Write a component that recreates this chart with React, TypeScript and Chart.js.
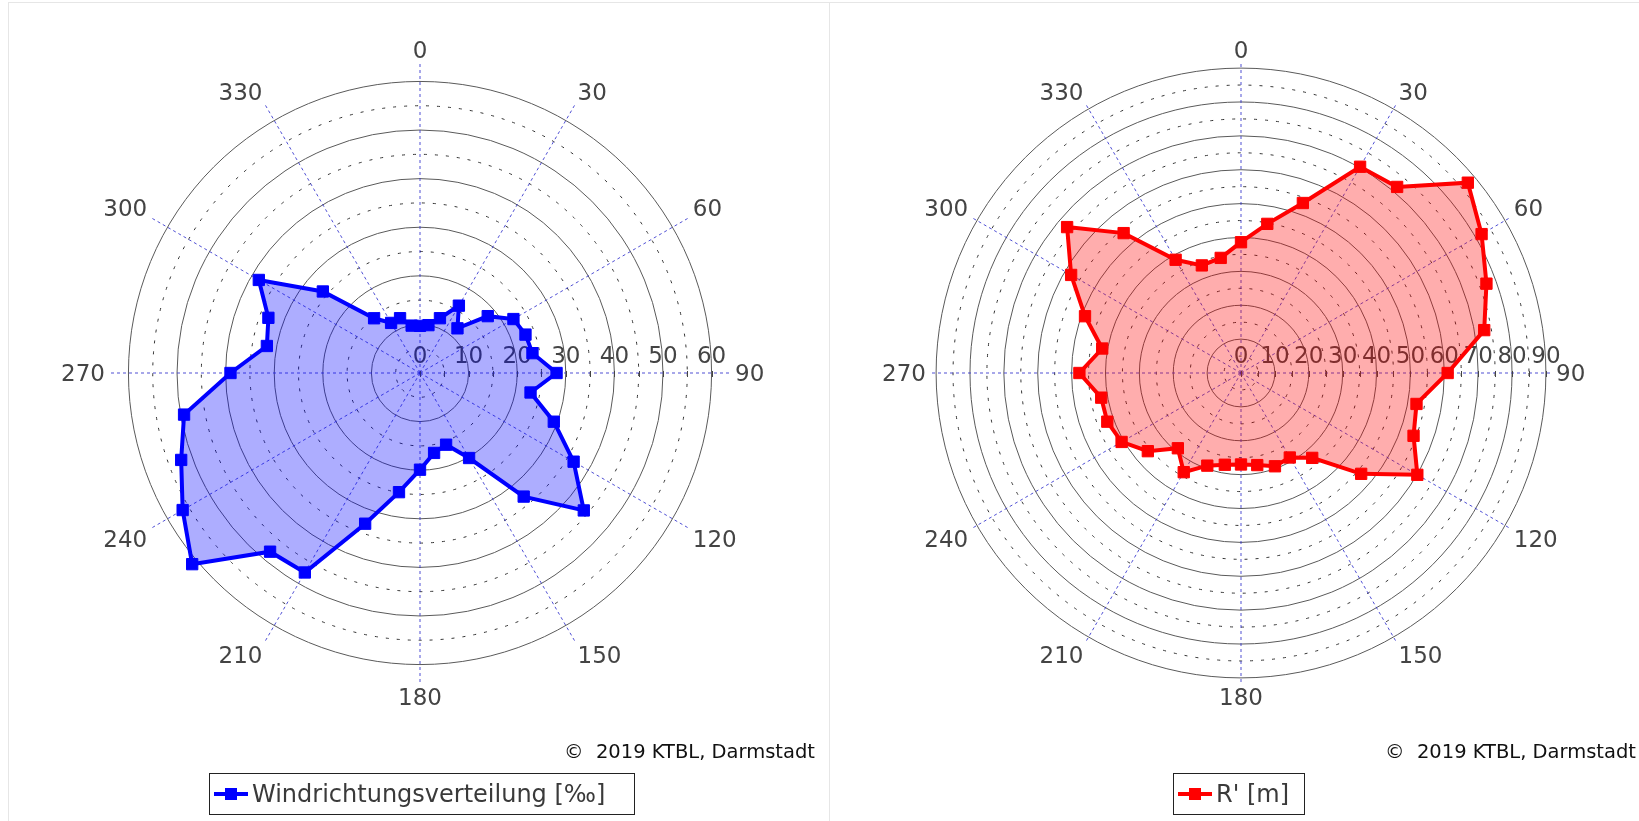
import React, { useEffect, useRef } from 'react';
import { Chart, registerables } from 'chart.js';

Chart.register(...registerables);

// ---------- data ----------
const directionLabels = [
  '0', '10', '20', '30', '40', '50', '60', '70', '80', '90', '100', '110',
  '120', '130', '140', '150', '160', '170', '180', '190', '200', '210', '220', '230',
  '240', '250', '260', '270', '280', '290', '300', '310', '320', '330', '340', '350',
];

const angleLabels = ['0', '30', '60', '90', '120', '150', '180', '210', '240', '270', '300', '330'];

const windValues = [
  9.7, 10.0, 12.0, 16.0, 12.0, 18.2, 22.2, 23.1, 23.5, 28.1, 23.1, 29.3,
  36.5, 44.0, 33.2, 20.2, 15.7, 16.7, 19.9, 24.9, 33.0, 47.4, 48.0, 61.2,
  56.4, 52.3, 49.3, 39.0, 32.0, 33.2, 38.3, 26.1, 14.7, 11.9, 12.0, 9.9,
];

const rValues = [
  38.6, 44.7, 53.4, 70.3, 71.7, 87.4, 82.0, 77.1, 72.9, 61.0, 52.6, 54.2,
  60.1, 46.3, 32.7, 28.8, 29.3, 27.6, 27.0, 27.5, 29.1, 33.8, 29.0, 35.9,
  40.7, 42.0, 41.9, 47.7, 41.6, 49.0, 57.9, 67.0, 53.9, 38.6, 33.8, 34.5,
];

const windTickLabels = ['0', '10', '20', '30', '40', '50', '60'];
const rTickLabels = ['0', '10', '20', '30', '40', '50', '60', '70', '80', '90'];

const windAxisMax = 64;
const rAxisMax = 91.8;

const FONT = '"DejaVu Sans", "Liberation Sans", sans-serif';

function polarDecor(tickLabels: string[]) {
  return {
    id: 'polarDecor',
    beforeDatasetsDraw(chart: any) {
      const s = chart.scales.r;
      const ctx = chart.ctx;
      ctx.save();
      // small tick marks along the 90° axis
      ctx.strokeStyle = '#444';
      ctx.lineWidth = 1;
      ctx.setLineDash([]);
      for (const t of s.ticks) {
        const d = s.getDistanceFromCenterForValue(t.value);
        ctx.beginPath();
        ctx.moveTo(Math.round(s.xCenter + d) + 0.5, s.yCenter - 2);
        ctx.lineTo(Math.round(s.xCenter + d) + 0.5, s.yCenter + 4);
        ctx.stroke();
      }
      // radial tick labels
      ctx.font = `23px ${FONT}`;
      ctx.fillStyle = '#444';
      ctx.textAlign = 'center';
      ctx.textBaseline = 'alphabetic';
      tickLabels.forEach((lab) => {
        const d = s.getDistanceFromCenterForValue(parseFloat(lab));
        ctx.fillText(lab, s.xCenter + d, s.yCenter - 10);
      });
      // angle labels
      const size = 23;
      const cap = size * 0.729;
      ctx.font = `${size}px ${FONT}`;
      const labels = chart.data.labels as string[];
      labels.forEach((lab, i) => {
        if (!angleLabels.includes(lab)) return;
        const deg = parseFloat(lab);
        const p = s.getPointPosition(i, s.drawingArea + 4);
        let align: CanvasTextAlign = 'center';
        if (deg > 0 && deg < 180) align = 'left';
        else if (deg > 180) align = 'right';
        let y = p.y;
        if (deg === 90 || deg === 270) y = p.y + cap / 2;
        else if (deg > 90 && deg < 270) y = p.y + cap;
        ctx.textAlign = align;
        ctx.fillText(lab, p.x, y);
      });
      ctx.restore();
    },
  };
}

function PolarPanel(props: {
  label: string;
  values: number[];
  max: number;
  tickLabels: string[];
  color: string;
  fill: string;
}) {
  const ref = useRef<HTMLCanvasElement | null>(null);
  useEffect(() => {
    if (!ref.current) return;
    const chart = new Chart(ref.current, {
      type: 'radar',
      data: {
        labels: directionLabels,
        datasets: [
          {
            label: props.label,
            data: props.values,
            borderColor: props.color,
            backgroundColor: props.fill,
            fill: true,
            borderWidth: 4,
            pointStyle: 'rect',
            pointRadius: 8,
            pointBackgroundColor: props.color,
            pointBorderColor: props.color,
            pointBorderWidth: 1,
            tension: 0,
          },
        ],
      },
      options: {
        animation: false,
        responsive: false,
        events: [],
        layout: { padding: { left: 101, right: 99, top: 62, bottom: 137 } },
        plugins: { legend: { display: false }, tooltip: { enabled: false } },
        scales: {
          r: {
            min: 0,
            max: props.max,
            startAngle: 0,
            ticks: { display: false, stepSize: 5, includeBounds: false },
            grid: {
              circular: true,
              color: (c: any) => (c.tick && c.tick.value % 10 === 0 ? '#5a5a5a' : '#333'),
              lineWidth: 1,
            },
            border: {
              dash: (c: any) => (c.tick && c.tick.value % 10 === 0 ? [] : [3, 8]),
            },
            angleLines: {
              display: true,
              color: 'rgba(50,50,205,0.85)',
              lineWidth: (c: any) => (c.index % 3 === 0 ? 1 : 0),
              borderDash: [3, 3],
            },
            pointLabels: { display: false },
          },
        },
      },
      plugins: [polarDecor(props.tickLabels)],
    } as any);
    return () => chart.destroy();
  }, []);
  return <canvas ref={ref} width={822} height={821} style={{ display: 'block' }} />;
}

function LegendBox(props: { left: number; width: number; color: string; text: string }) {
  return (
    <div
      style={{
        position: 'absolute',
        left: props.left,
        top: 773,
        width: props.width,
        height: 42,
        border: '1px solid #222',
        boxSizing: 'border-box',
        display: 'flex',
        alignItems: 'center',
        fontFamily: FONT,
        fontSize: 24,
        color: '#3a3a3a',
        whiteSpace: 'nowrap',
      }}
    >
      <div style={{ position: 'relative', width: 34, height: 14, marginLeft: 4, marginRight: 4 }}>
        <div style={{ position: 'absolute', left: 0, top: 5, width: 34, height: 4, background: props.color }} />
        <div style={{ position: 'absolute', left: 11, top: 1, width: 12, height: 12, background: props.color }} />
      </div>
      <span>{props.text}</span>
    </div>
  );
}

function Copyright(props: { right: number }) {
  return (
    <div
      style={{
        position: 'absolute',
        left: props.right - 300,
        width: 300,
        top: 740,
        textAlign: 'right',
        fontFamily: FONT,
        fontSize: 19.5,
        lineHeight: '24px',
        color: '#111',
        whiteSpace: 'nowrap',
      }}
    >
      ©&nbsp; 2019 KTBL, Darmstadt
    </div>
  );
}

export default function App() {
  return (
    <div
      style={{
        position: 'absolute',
        left: 0,
        top: 0,
        width: 1639,
        height: 821,
        overflow: 'hidden',
        background: '#fff',
      }}
    >
      <div style={{ position: 'absolute', left: 8, top: 2, width: 822, height: 900, border: '1px solid #e6e6e6', boxSizing: 'border-box' }} />
      <div style={{ position: 'absolute', left: 829, top: 2, width: 822, height: 900, border: '1px solid #e6e6e6', boxSizing: 'border-box' }} />
      <div style={{ position: 'absolute', left: 8, top: 0 }}>
        <PolarPanel
          label="Windrichtungsverteilung [‰]"
          values={windValues}
          max={windAxisMax}
          tickLabels={windTickLabels}
          color="#0000ff"
          fill="rgba(0,0,255,0.32)"
        />
      </div>
      <div style={{ position: 'absolute', left: 829, top: 0 }}>
        <PolarPanel
          label="R' [m]"
          values={rValues}
          max={rAxisMax}
          tickLabels={rTickLabels}
          color="#ff0000"
          fill="rgba(255,0,0,0.32)"
        />
      </div>
      <Copyright right={815} />
      <Copyright right={1636} />
      <LegendBox left={209} width={426} color="#0000ff" text="Windrichtungsverteilung [‰]" />
      <LegendBox left={1173} width={132} color="#ff0000" text="R' [m]" />
    </div>
  );
}
